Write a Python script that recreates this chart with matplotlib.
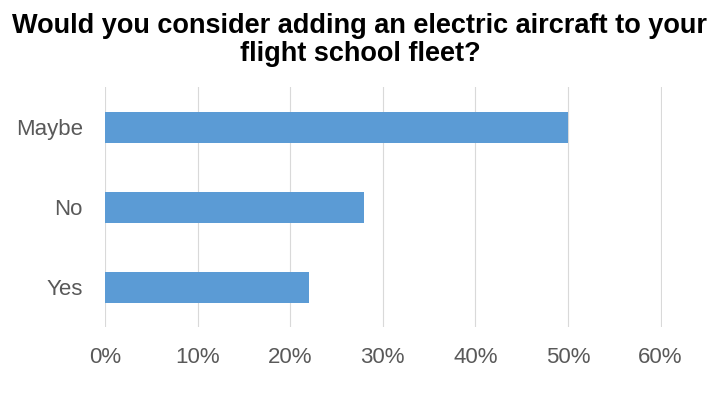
import matplotlib.pyplot as plt
from matplotlib.ticker import PercentFormatter

plt.rcParams['font.family'] = ['Liberation Sans', 'DejaVu Sans']

categories = ['Yes', 'No', 'Maybe']
shares = [0.22, 0.28, 0.50]
xticks = [0, 0.1, 0.2, 0.3, 0.4, 0.5, 0.6]
title_lines = ['Would you consider adding an electric aircraft to your',
               'flight school fleet?']

fig = plt.figure(figsize=(7.2, 4.05), dpi=100)
ax = fig.add_axes([0.1458, 0.1914, 0.7742, 0.5926])

ax.barh(categories, shares, height=0.39, color='#5B9BD5', zorder=3)

ax.set_xlim(0, 0.602)
ax.set_ylim(-0.5, 2.5)
ax.set_xticks(xticks)
ax.xaxis.set_major_formatter(PercentFormatter(1.0, decimals=0))
ax.grid(axis='x', color='#D9D9D9', linewidth=0.8, zorder=0)
for s in ax.spines.values():
    s.set_visible(False)
ax.tick_params(axis='both', length=0, labelsize=16, colors='#595959')
ax.tick_params(axis='x', pad=14)
ax.tick_params(axis='y', pad=16)

# title, two lines placed by baseline
for line, ypix in zip(title_lines, [33, 61]):
    fig.text(0.5, 1 - ypix / 405, line, ha='center', va='baseline',
             fontsize=19.5, fontweight='bold', color='black')

fig.savefig('out.png', dpi=100)
